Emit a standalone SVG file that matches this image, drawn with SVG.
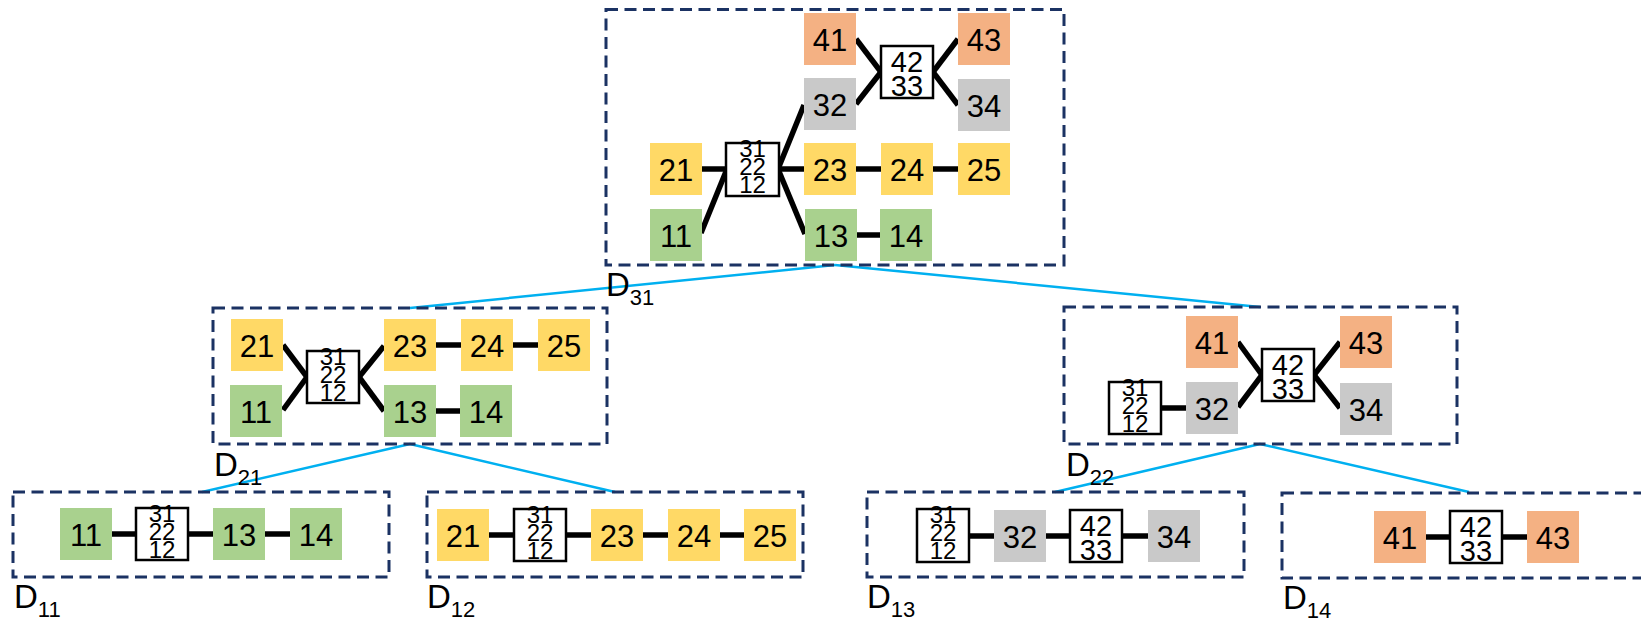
<svg xmlns="http://www.w3.org/2000/svg" width="1641" height="622" viewBox="0 0 1641 622">
  <style>
    text { font-family: "Liberation Sans", Arial, sans-serif; fill: #000; }
    .sq text { font-size: 31px; text-anchor: middle; }
    .or { fill: #F4B183; }
    .gy { fill: #C9C9C9; }
    .ye { fill: #FFD966; }
    .gr { fill: #A9D18E; }
    .mx rect { fill: #fff; stroke: #000; stroke-width: 2.5; }
    .m3 text { font-size: 24px; text-anchor: middle; }
    .m2 text { font-size: 29px; text-anchor: middle; }
    .frame rect { fill: none; stroke: #1B3263; stroke-width: 3; stroke-dasharray: 12 6.5; }
    .frame text { font-size: 33px; }
    .frame tspan.sub { font-size: 22px; }
    .link line { stroke: #000; stroke-width: 5.5; }
    .tree line { stroke: #00B0F0; stroke-width: 2.5; }
  </style>

  <!-- hierarchy connectors between frames -->
  <g id="tree" class="tree">
    <line x1="835" y1="265" x2="410" y2="308"/>
    <line x1="835" y1="265" x2="1260" y2="307"/>
    <line x1="410" y1="444" x2="202" y2="492"/>
    <line x1="410" y1="444" x2="615" y2="492"/>
    <line x1="1260" y1="444" x2="1055" y2="492"/>
    <line x1="1260" y1="444" x2="1469" y2="492"/>
  </g>

  <!-- frames -->
  <g id="D31" class="frame"><rect x="606" y="9.5" width="458" height="255.5"/><text x="606" y="296">D<tspan class="sub" dy="9">31</tspan></text></g>
  <g id="D21" class="frame"><rect x="213" y="308" width="394" height="136"/><text x="214" y="476">D<tspan class="sub" dy="9">21</tspan></text></g>
  <g id="D22" class="frame"><rect x="1064" y="307" width="393" height="137"/><text x="1066" y="476">D<tspan class="sub" dy="9">22</tspan></text></g>
  <g id="D11" class="frame"><rect x="13" y="492" width="376" height="85"/><text x="14" y="608">D<tspan class="sub" dy="9">11</tspan></text></g>
  <g id="D12" class="frame"><rect x="427" y="492" width="376" height="85"/><text x="427" y="608">D<tspan class="sub" dy="9">12</tspan></text></g>
  <g id="D13" class="frame"><rect x="867" y="492" width="377" height="85"/><text x="867" y="608">D<tspan class="sub" dy="9">13</tspan></text></g>
  <g id="D14" class="frame"><rect x="1282" y="493" width="370" height="85"/><text x="1283" y="609">D<tspan class="sub" dy="9">14</tspan></text></g>

  <!-- links between cells -->
  <g id="links" class="link">
    <!-- D31 -->
    <line x1="701" y1="169" x2="727" y2="169"/>
    <line x1="701" y1="233" x2="727" y2="169"/>
    <line x1="778" y1="169" x2="804" y2="105"/>
    <line x1="778" y1="169" x2="804" y2="169"/>
    <line x1="778" y1="169" x2="805" y2="234"/>
    <line x1="857" y1="235" x2="880" y2="235"/>
    <line x1="856" y1="169" x2="881" y2="169"/>
    <line x1="933" y1="169" x2="958" y2="169"/>
    <line x1="856" y1="39" x2="881" y2="72"/>
    <line x1="856" y1="104" x2="881" y2="72"/>
    <line x1="933" y1="72" x2="958" y2="39"/>
    <line x1="933" y1="72" x2="958" y2="105"/>
    <!-- D21 -->
    <line x1="283" y1="345" x2="307" y2="377"/>
    <line x1="283" y1="410" x2="307" y2="377"/>
    <line x1="359" y1="377" x2="384" y2="346"/>
    <line x1="359" y1="377" x2="384" y2="411"/>
    <line x1="436" y1="345" x2="461" y2="345"/>
    <line x1="513" y1="345" x2="538" y2="345"/>
    <line x1="436" y1="411" x2="460" y2="411"/>
    <!-- D22 -->
    <line x1="1161" y1="408" x2="1186" y2="408"/>
    <line x1="1238" y1="342" x2="1262" y2="375"/>
    <line x1="1238" y1="407" x2="1262" y2="375"/>
    <line x1="1314" y1="375" x2="1340" y2="342"/>
    <line x1="1314" y1="375" x2="1340" y2="408"/>
    <!-- D11 -->
    <line x1="112" y1="534" x2="136" y2="534"/>
    <line x1="188" y1="534" x2="213" y2="534"/>
    <line x1="265" y1="534" x2="290" y2="534"/>
    <!-- D12 -->
    <line x1="489" y1="535" x2="514" y2="535"/>
    <line x1="566" y1="535" x2="591" y2="535"/>
    <line x1="643" y1="535" x2="668" y2="535"/>
    <line x1="720" y1="535" x2="744" y2="535"/>
    <!-- D13 -->
    <line x1="969" y1="536" x2="994" y2="536"/>
    <line x1="1046" y1="536" x2="1070" y2="536"/>
    <line x1="1122" y1="536" x2="1148" y2="536"/>
    <!-- D14 -->
    <line x1="1426" y1="537" x2="1450" y2="537"/>
    <line x1="1502" y1="537" x2="1527" y2="537"/>
  </g>

  <!-- D31 cells -->
  <g id="d31-41" class="sq" transform="translate(804,13)"><rect class="or" width="52" height="52"/><text x="26" y="38">41</text></g>
  <g id="d31-43" class="sq" transform="translate(958,13)"><rect class="or" width="52" height="52"/><text x="26" y="38">43</text></g>
  <g id="d31-32" class="sq" transform="translate(804,78)"><rect class="gy" width="52" height="52"/><text x="26" y="38">32</text></g>
  <g id="d31-34" class="sq" transform="translate(958,79)"><rect class="gy" width="52" height="52"/><text x="26" y="38">34</text></g>
  <g id="d31-m42" class="mx m2" transform="translate(881,46)"><rect width="52" height="52"/><text x="26" y="26">42</text><text x="26" y="50">33</text></g>
  <g id="d31-21" class="sq" transform="translate(650,143)"><rect class="ye" width="52" height="52"/><text x="26" y="38">21</text></g>
  <g id="d31-m31" class="mx m3" transform="translate(726,143)"><rect width="53" height="53"/><text x="26.5" y="14">31</text><text x="26.5" y="32">22</text><text x="26.5" y="50">12</text></g>
  <g id="d31-23" class="sq" transform="translate(804,143)"><rect class="ye" width="52" height="52"/><text x="26" y="38">23</text></g>
  <g id="d31-24" class="sq" transform="translate(881,143)"><rect class="ye" width="52" height="52"/><text x="26" y="38">24</text></g>
  <g id="d31-25" class="sq" transform="translate(958,143)"><rect class="ye" width="52" height="52"/><text x="26" y="38">25</text></g>
  <g id="d31-11" class="sq" transform="translate(650,209)"><rect class="gr" width="52" height="52"/><text x="26" y="38">11</text></g>
  <g id="d31-13" class="sq" transform="translate(805,209)"><rect class="gr" width="52" height="52"/><text x="26" y="38">13</text></g>
  <g id="d31-14" class="sq" transform="translate(880,209)"><rect class="gr" width="52" height="52"/><text x="26" y="38">14</text></g>

  <!-- D21 cells -->
  <g id="d21-21" class="sq" transform="translate(231,319)"><rect class="ye" width="52" height="52"/><text x="26" y="38">21</text></g>
  <g id="d21-11" class="sq" transform="translate(230,385)"><rect class="gr" width="52" height="52"/><text x="26" y="38">11</text></g>
  <g id="d21-m31" class="mx m3" transform="translate(307,351)"><rect width="52" height="52"/><text x="26" y="14">31</text><text x="26" y="32">22</text><text x="26" y="50">12</text></g>
  <g id="d21-23" class="sq" transform="translate(384,319)"><rect class="ye" width="52" height="52"/><text x="26" y="38">23</text></g>
  <g id="d21-24" class="sq" transform="translate(461,319)"><rect class="ye" width="52" height="52"/><text x="26" y="38">24</text></g>
  <g id="d21-25" class="sq" transform="translate(538,319)"><rect class="ye" width="52" height="52"/><text x="26" y="38">25</text></g>
  <g id="d21-13" class="sq" transform="translate(384,385)"><rect class="gr" width="52" height="52"/><text x="26" y="38">13</text></g>
  <g id="d21-14" class="sq" transform="translate(460,385)"><rect class="gr" width="52" height="52"/><text x="26" y="38">14</text></g>

  <!-- D22 cells -->
  <g id="d22-41" class="sq" transform="translate(1186,316)"><rect class="or" width="52" height="52"/><text x="26" y="38">41</text></g>
  <g id="d22-43" class="sq" transform="translate(1340,316)"><rect class="or" width="52" height="52"/><text x="26" y="38">43</text></g>
  <g id="d22-m42" class="mx m2" transform="translate(1262,349)"><rect width="52" height="52"/><text x="26" y="26">42</text><text x="26" y="50">33</text></g>
  <g id="d22-32" class="sq" transform="translate(1186,382)"><rect class="gy" width="52" height="52"/><text x="26" y="38">32</text></g>
  <g id="d22-34" class="sq" transform="translate(1340,383)"><rect class="gy" width="52" height="52"/><text x="26" y="38">34</text></g>
  <g id="d22-m31" class="mx m3" transform="translate(1109,382)"><rect width="52" height="52"/><text x="26" y="14">31</text><text x="26" y="32">22</text><text x="26" y="50">12</text></g>

  <!-- D11 cells -->
  <g id="d11-11" class="sq" transform="translate(60,508)"><rect class="gr" width="52" height="52"/><text x="26" y="38">11</text></g>
  <g id="d11-m31" class="mx m3" transform="translate(136,508)"><rect width="52" height="52"/><text x="26" y="14">31</text><text x="26" y="32">22</text><text x="26" y="50">12</text></g>
  <g id="d11-13" class="sq" transform="translate(213,508)"><rect class="gr" width="52" height="52"/><text x="26" y="38">13</text></g>
  <g id="d11-14" class="sq" transform="translate(290,508)"><rect class="gr" width="52" height="52"/><text x="26" y="38">14</text></g>

  <!-- D12 cells -->
  <g id="d12-21" class="sq" transform="translate(437,509)"><rect class="ye" width="52" height="52"/><text x="26" y="38">21</text></g>
  <g id="d12-m31" class="mx m3" transform="translate(514,509)"><rect width="52" height="52"/><text x="26" y="14">31</text><text x="26" y="32">22</text><text x="26" y="50">12</text></g>
  <g id="d12-23" class="sq" transform="translate(591,509)"><rect class="ye" width="52" height="52"/><text x="26" y="38">23</text></g>
  <g id="d12-24" class="sq" transform="translate(668,509)"><rect class="ye" width="52" height="52"/><text x="26" y="38">24</text></g>
  <g id="d12-25" class="sq" transform="translate(744,509)"><rect class="ye" width="52" height="52"/><text x="26" y="38">25</text></g>

  <!-- D13 cells -->
  <g id="d13-m31" class="mx m3" transform="translate(917,509)"><rect width="52" height="53"/><text x="26" y="14">31</text><text x="26" y="32">22</text><text x="26" y="50">12</text></g>
  <g id="d13-32" class="sq" transform="translate(994,510)"><rect class="gy" width="52" height="52"/><text x="26" y="38">32</text></g>
  <g id="d13-m42" class="mx m2" transform="translate(1070,510)"><rect width="52" height="52"/><text x="26" y="26">42</text><text x="26" y="50">33</text></g>
  <g id="d13-34" class="sq" transform="translate(1148,510)"><rect class="gy" width="52" height="52"/><text x="26" y="38">34</text></g>

  <!-- D14 cells -->
  <g id="d14-41" class="sq" transform="translate(1374,511)"><rect class="or" width="52" height="52"/><text x="26" y="38">41</text></g>
  <g id="d14-m42" class="mx m2" transform="translate(1450,511)"><rect width="52" height="52"/><text x="26" y="26">42</text><text x="26" y="50">33</text></g>
  <g id="d14-43" class="sq" transform="translate(1527,511)"><rect class="or" width="52" height="52"/><text x="26" y="38">43</text></g>
</svg>
